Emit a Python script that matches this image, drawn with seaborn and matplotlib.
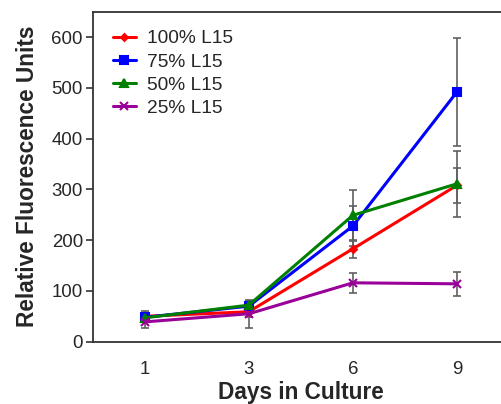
import matplotlib
matplotlib.use("Agg")
import matplotlib.pyplot as plt
import seaborn as sns
import pandas as pd
import numpy as np

days = ["1", "3", "6", "9"]
series = ["100% L15", "75% L15", "50% L15", "25% L15"]
vals_100 = [50, 59, 183, 308]
vals_75 = [48, 70, 228, 492]
vals_50 = [47, 72, 249, 311]
vals_25 = [39, 55, 116, 114]
err_100 = [10, 10, 18, 35]
err_75 = [8, 8, 40, 107]
err_50 = [8, 8, 50, 65]
err_25 = [12, 28, 20, 24]

colors = ["#ff0000", "#0000ff", "#008000", "#990099"]
markers = ["D", "s", "^", "x"]
msizes = [3.5, 5.5, 5.5, 5.5]

vals = [vals_100, vals_75, vals_50, vals_25]
errs = [err_100, err_75, err_50, err_25]

rows = []
for s, v in zip(series, vals):
    for d, y in zip(days, v):
        rows.append({"Day": d, "Series": s, "Value": y})
df = pd.DataFrame(rows)

sns.set_style("white")
plt.rcParams["font.family"] = ["Liberation Sans", "DejaVu Sans"]

fig = plt.figure(figsize=(5.02, 4.04), dpi=100)
ax = fig.add_axes([92.7 / 502, (404 - 341.7) / 404, (509 - 92.7) / 502, (341.7 - 11.7) / 404])

xpos = np.arange(len(days))
for v, e in zip(vals, errs):
    ax.errorbar(xpos, v, yerr=e, fmt="none", ecolor="#606060", elinewidth=1.2,
                capsize=3, capthick=1.2, zorder=1)

for s, c, m, ms in zip(series, colors, markers, msizes):
    sub = df[df["Series"] == s]
    sns.lineplot(data=sub, x="Day", y="Value", color=c, marker=m, markersize=ms,
                 markeredgecolor=c, markeredgewidth=1.5, linewidth=2.2, ax=ax,
                 label=s, zorder=3)

ax.set_xlim(-0.5, 3.5)
ax.set_ylim(0, 650)
ax.set_yticks([0, 100, 200, 300, 400, 500, 600])
ax.set_xticks(xpos)
ax.set_xticklabels(days)
ax.set_xticks([0.5, 1.5, 2.5], minor=True)
ax.tick_params(axis="x", which="major", length=0, pad=14, labelsize=13.4)
ax.tick_params(axis="x", which="minor", length=5, width=1.2, color="#333333", direction="out")
ax.tick_params(axis="y", length=5, width=1.2, color="#333333", direction="out", labelsize=13.4, pad=2, left=True)
ax.set_xlabel("Days in Culture", fontsize=16.3, fontweight="bold", labelpad=2)
ax.set_ylabel("Relative Fluorescence Units", fontsize=16.3, fontweight="bold", labelpad=9)

for sp in ["left", "bottom", "top", "right"]:
    ax.spines[sp].set_color("#333333")
    ax.spines[sp].set_linewidth(1.3)

leg = ax.legend(loc="upper left", frameon=False, fontsize=13.8, handlelength=1.2,
                handletextpad=0.6, labelspacing=0.3, borderaxespad=0.0,
                bbox_to_anchor=(0.03, 0.968))

fig.savefig("out.png", dpi=100)
